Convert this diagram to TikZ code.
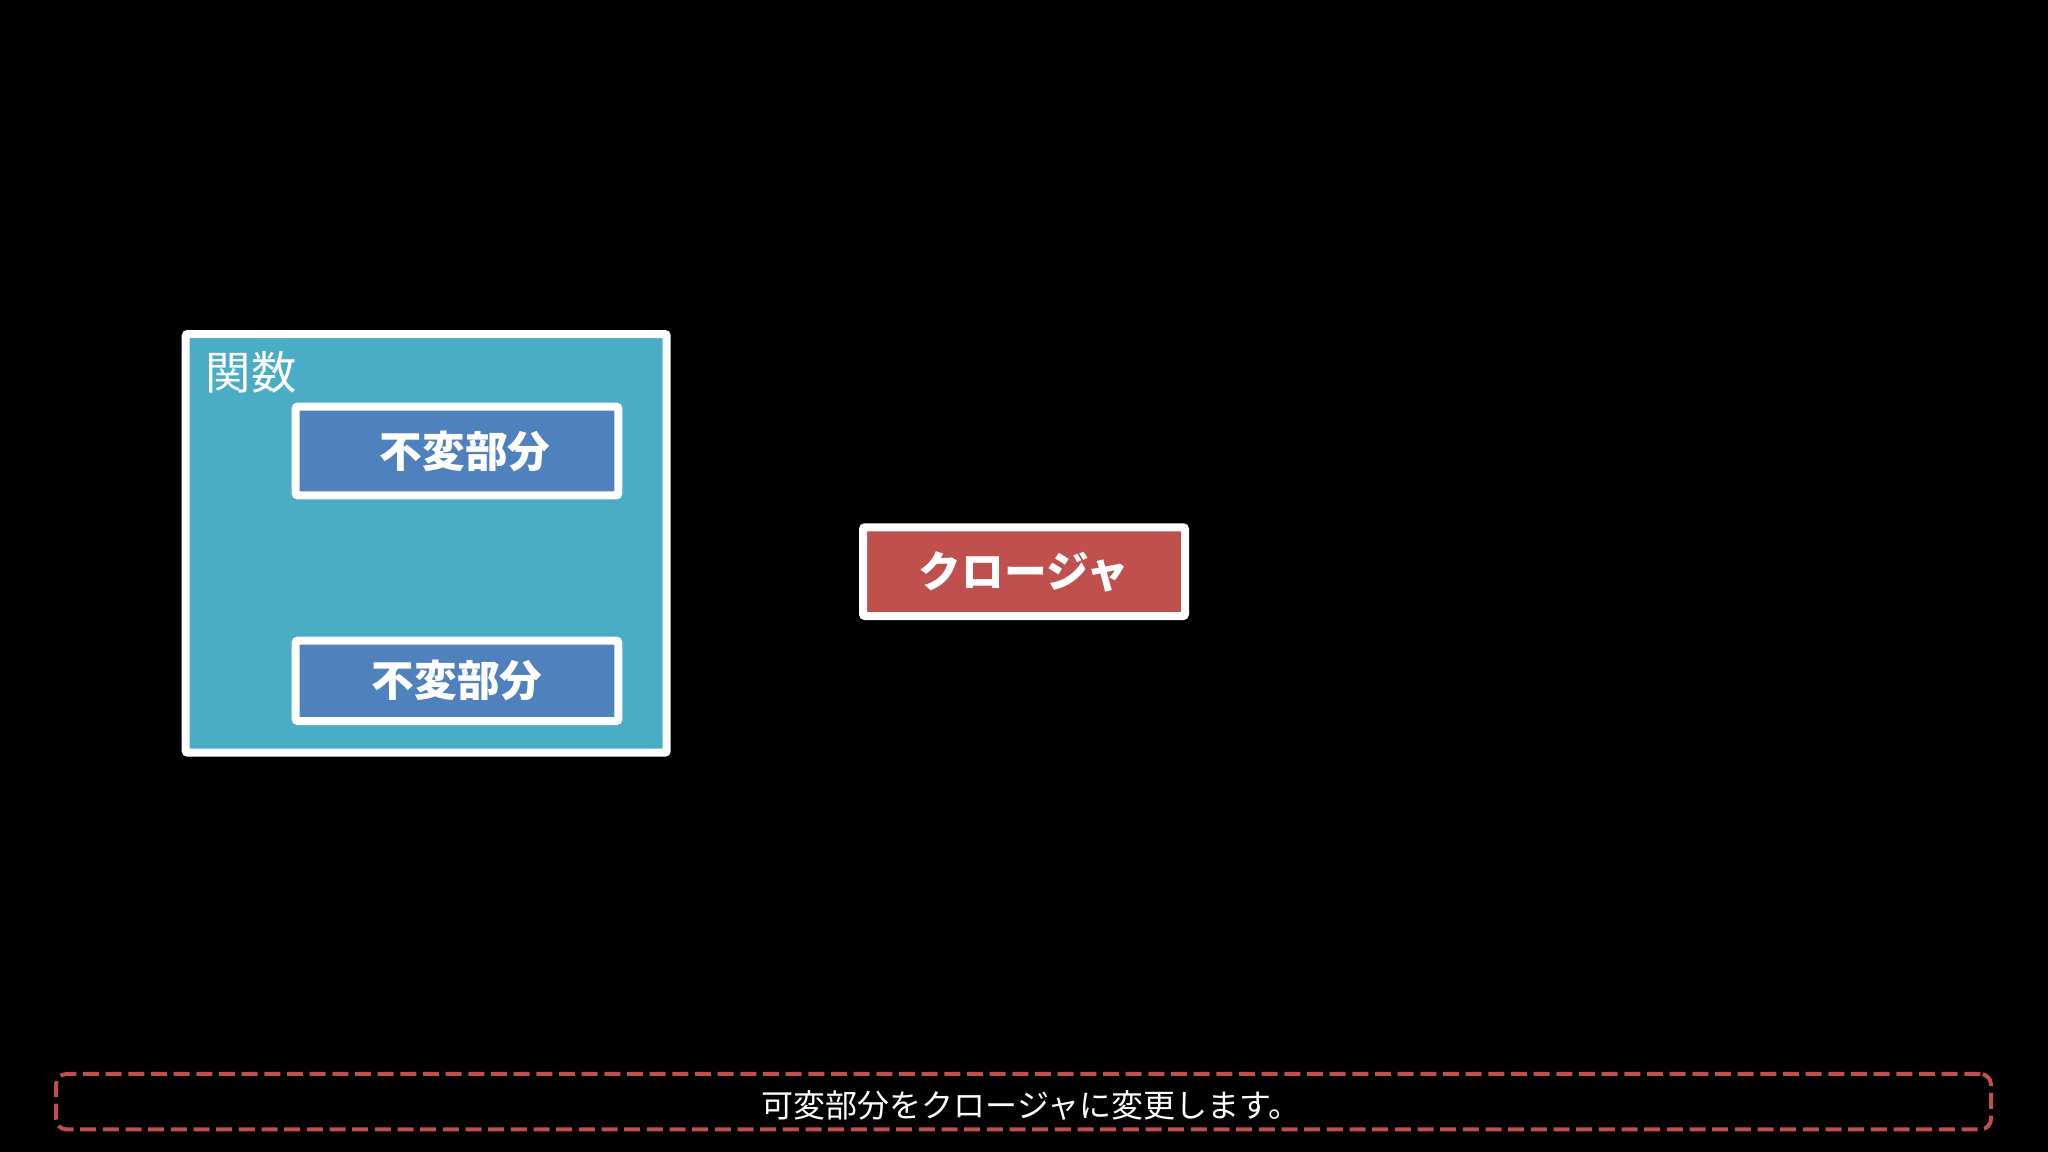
\documentclass[tikz,border=0pt]{standalone}
\usepackage{fontspec}
\newfontfamily\jp{Noto Sans CJK JP}
\definecolor{aquafill}{HTML}{4BACC6}
\definecolor{bluefill}{HTML}{4F81BD}
\definecolor{redfill}{HTML}{C0504D}
\def\pxu{0.75pt}
\tikzset{
  outerbox/.style={draw=white, fill=aquafill, line width=6pt, rounded corners=1.5pt, inner sep=0pt},
  partbox/.style={draw=white, fill=bluefill, line width=6pt, rounded corners=1.5pt, inner sep=0pt,
    text=white, font=\jp\bfseries\fontsize{32}{32}\selectfont},
  closurebox/.style={draw=white, fill=redfill, line width=6pt, rounded corners=1.5pt, inner sep=0pt,
    text=white, font=\jp\bfseries\fontsize{32}{32}\selectfont},
  captionbox/.style={draw=redfill, line width=3pt, dash pattern=on 12pt off 5pt, rounded corners=8pt, inner sep=0pt},
  plain/.style={text=white, inner sep=0pt}
}
\begin{document}
\begin{tikzpicture}[x=0.75pt,y=-0.75pt]
\fill[black] (0,0) rectangle (2048,1152);
\useasboundingbox (0,0) rectangle (2048,1152);
\node[outerbox, minimum width=481*\pxu, minimum height=418.7*\pxu] (func) at (426.2,543.35) {};
\node[plain, font=\jp\fontsize{34}{34}\selectfont] (funclabel) at (251,372) {関数};
\node[partbox, minimum width=322.6*\pxu, minimum height=88.6*\pxu] (fixed1) at (457,451) {\hspace*{12pt}不変部分};
\node[partbox, minimum width=322.6*\pxu, minimum height=80.3*\pxu] (fixed2) at (457,680.85) {不変部分};
\node[closurebox, minimum width=322*\pxu, minimum height=88.7*\pxu] (closure) at (1024,571.65) {クロージャ};
\node[captionbox, minimum width=1935*\pxu, minimum height=55.5*\pxu] (capbox) at (1023.5,1101.7) {};
\node[plain, font=\jp\fontsize{24}{24}\selectfont] (caption) at (1031,1105) {可変部分をクロージャに変更します。};
\end{tikzpicture}
\end{document}
